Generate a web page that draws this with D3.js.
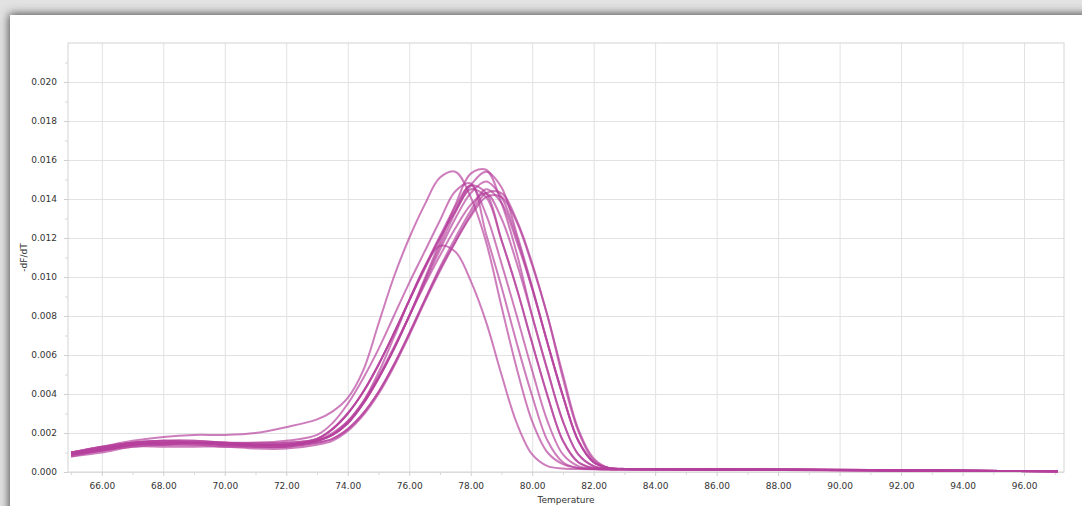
<!DOCTYPE html>
<html>
<head>
<meta charset="utf-8">
<script src="https://cdn.jsdelivr.net/npm/d3@7"></script>
<style>
  body { margin: 0; background: #fff; }
  text { font-family: "DejaVu Sans", sans-serif; }
</style>
</head>
<body>
<svg id="chart" width="1082" height="506"></svg>
<script>
// temperature grid shared by every melt curve (deg C)
const temps = [65, 66, 67, 68, 69, 70, 71, 72, 73, 73.5, 74, 74.5, 75, 75.5, 76, 76.5, 77, 77.5,
               78, 78.5, 79, 79.5, 80, 80.5, 81, 81.5, 82, 82.5, 83, 85, 88, 91, 94, 97.1];

// -dF/dT per well
const melt01 = [0.0010, 0.0013, 0.0016, 0.0018, 0.0019, 0.0019, 0.0020, 0.0023, 0.0027, 0.0031, 0.0038, 0.0052, 0.0076, 0.0100, 0.0120, 0.0137, 0.0151, 0.0154, 0.0141, 0.0118, 0.0085, 0.0053, 0.0026, 0.0010, 0.0004, 0.0002, 0.00016, 0.00014, 0.00013, 0.00012, 0.00010, 0.00008, 0.00006, 0.00004];
const melt02 = [0.0009, 0.0012, 0.0015, 0.0016, 0.0016, 0.0015, 0.0014, 0.0014, 0.0016, 0.0020, 0.0026, 0.0036, 0.0051, 0.0069, 0.0088, 0.0105, 0.0116, 0.0113, 0.0098, 0.0077, 0.0050, 0.0025, 0.0009, 0.0003, 0.00018, 0.00015, 0.00014, 0.00013, 0.00013, 0.00012, 0.00010, 0.00008, 0.00006, 0.00004];
const melt03 = [0.0010, 0.0013, 0.0015, 0.0016, 0.0016, 0.0015, 0.0015, 0.0016, 0.0019, 0.0025, 0.0035, 0.0048, 0.0063, 0.0080, 0.0097, 0.0113, 0.0129, 0.0144, 0.0148, 0.0122, 0.0095, 0.0066, 0.0039, 0.0016, 0.0005, 0.0002, 0.00016, 0.00014, 0.00014, 0.00013, 0.00011, 0.00009, 0.00006, 0.00004];
const melt04 = [0.0009, 0.0012, 0.0014, 0.0015, 0.0015, 0.0015, 0.0014, 0.0015, 0.0017, 0.0022, 0.0030, 0.0041, 0.0055, 0.0071, 0.0088, 0.0105, 0.0120, 0.0134, 0.0147, 0.0132, 0.0107, 0.0080, 0.0052, 0.0026, 0.0009, 0.0003, 0.00017, 0.00014, 0.00014, 0.00013, 0.00011, 0.00009, 0.00006, 0.00004];
const melt05 = [0.0010, 0.0012, 0.0015, 0.0015, 0.0015, 0.0014, 0.0014, 0.0014, 0.0017, 0.0022, 0.0030, 0.0041, 0.0055, 0.0071, 0.0088, 0.0105, 0.0121, 0.0136, 0.0147, 0.0143, 0.0119, 0.0094, 0.0066, 0.0039, 0.0016, 0.0005, 0.0002, 0.00015, 0.00014, 0.00013, 0.00011, 0.00009, 0.00006, 0.00004];
const melt06 = [0.0009, 0.0011, 0.0014, 0.0015, 0.0015, 0.0014, 0.0014, 0.0014, 0.0016, 0.0019, 0.0025, 0.0035, 0.0048, 0.0063, 0.0080, 0.0099, 0.0118, 0.0137, 0.0153, 0.0155, 0.0138, 0.0112, 0.0080, 0.0052, 0.0026, 0.0009, 0.0003, 0.00016, 0.00015, 0.00014, 0.00012, 0.00009, 0.00006, 0.00004];
const melt07 = [0.0008, 0.0011, 0.0013, 0.0014, 0.0014, 0.0014, 0.0013, 0.0013, 0.0016, 0.0019, 0.0025, 0.0035, 0.0048, 0.0063, 0.0080, 0.0098, 0.0116, 0.0133, 0.0147, 0.0154, 0.0146, 0.0122, 0.0095, 0.0066, 0.0039, 0.0016, 0.0005, 0.0002, 0.00015, 0.00014, 0.00012, 0.00009, 0.00006, 0.00004];
const melt08 = [0.0009, 0.0011, 0.0014, 0.0014, 0.0014, 0.0013, 0.0013, 0.0013, 0.0015, 0.0017, 0.0022, 0.0030, 0.0041, 0.0055, 0.0071, 0.0088, 0.0105, 0.0120, 0.0134, 0.0145, 0.0138, 0.0118, 0.0094, 0.0066, 0.0039, 0.0016, 0.0005, 0.0002, 0.00015, 0.00014, 0.00012, 0.00010, 0.00006, 0.00004];
const melt09 = [0.0010, 0.0012, 0.0014, 0.0015, 0.0015, 0.0014, 0.0013, 0.0013, 0.0015, 0.0017, 0.0022, 0.0030, 0.0041, 0.0055, 0.0071, 0.0088, 0.0104, 0.0118, 0.0131, 0.0141, 0.0141, 0.0128, 0.0106, 0.0080, 0.0048, 0.0021, 0.0006, 0.0002, 0.00016, 0.00015, 0.00013, 0.00010, 0.00006, 0.00004];
const melt10 = [0.0009, 0.0012, 0.0014, 0.0015, 0.0015, 0.0015, 0.0014, 0.0014, 0.0016, 0.0019, 0.0025, 0.0035, 0.0048, 0.0063, 0.0080, 0.0096, 0.0111, 0.0125, 0.0137, 0.0143, 0.0130, 0.0107, 0.0080, 0.0052, 0.0026, 0.0009, 0.0003, 0.00016, 0.00015, 0.00014, 0.00012, 0.00010, 0.00006, 0.00004];
const melt11 = [0.0010, 0.0013, 0.0015, 0.0016, 0.0015, 0.0015, 0.0015, 0.0015, 0.0017, 0.0022, 0.0030, 0.0041, 0.0055, 0.0071, 0.0088, 0.0104, 0.0120, 0.0134, 0.0145, 0.0141, 0.0119, 0.0094, 0.0066, 0.0039, 0.0016, 0.0005, 0.0002, 0.00015, 0.00014, 0.00013, 0.00011, 0.00009, 0.00006, 0.00004];
const melt12 = [0.0009, 0.0011, 0.0014, 0.0014, 0.0015, 0.0014, 0.0014, 0.0014, 0.0016, 0.0019, 0.0026, 0.0036, 0.0049, 0.0064, 0.0080, 0.0097, 0.0114, 0.0130, 0.0143, 0.0149, 0.0141, 0.0120, 0.0094, 0.0066, 0.0039, 0.0016, 0.0005, 0.0002, 0.00016, 0.00015, 0.00013, 0.00010, 0.00006, 0.00004];
const melt13 = [0.0008, 0.0010, 0.0013, 0.0013, 0.0013, 0.0013, 0.0012, 0.0012, 0.0014, 0.0016, 0.0021, 0.0029, 0.0040, 0.0054, 0.0070, 0.0087, 0.0103, 0.0118, 0.0132, 0.0143, 0.0143, 0.0129, 0.0107, 0.0080, 0.0050, 0.0022, 0.0007, 0.0002, 0.00016, 0.00015, 0.00013, 0.00010, 0.00006, 0.00004];

const curves = [melt01, melt02, melt03, melt04, melt05, melt06, melt07, melt08, melt09, melt10, melt11, melt12, melt13];

// axis ticks
const xTicks = [66, 68, 70, 72, 74, 76, 78, 80, 82, 84, 86, 88, 90, 92, 94, 96];
const xMinor = [65, 67, 69, 71, 73, 75, 77, 79, 81, 83, 85, 87, 89, 91, 93, 95, 97];
const yTicks = [0, 0.002, 0.004, 0.006, 0.008, 0.010, 0.012, 0.014, 0.016, 0.018, 0.020];
const yMinor = [0.001, 0.003, 0.005, 0.007, 0.009, 0.011, 0.013, 0.015, 0.017, 0.019, 0.021];

const plot = { left: 68, top: 43, right: 1064, bottom: 472 };

const svg = d3.select("#chart");

// window frame: grey backdrop with the panel's shadow
const defs = svg.append("defs");
defs.append("filter")
    .attr("id", "shade")
    .attr("x", "-5%").attr("y", "-10%")
    .attr("width", "110%").attr("height", "120%")
    .append("feGaussianBlur")
    .attr("stdDeviation", 5);

svg.append("rect")
   .attr("width", 1082).attr("height", 506)
   .attr("fill", "#e2e2e2");
svg.append("rect")
   .attr("x", 9).attr("y", 14)
   .attr("width", 1090).attr("height", 510)
   .attr("fill", "#4a4a4a")
   .attr("filter", "url(#shade)");
svg.append("rect")
   .attr("x", 10).attr("y", 15)
   .attr("width", 1080).attr("height", 500)
   .attr("fill", "#fff");

const x = d3.scaleLinear().domain([64.9, 97.3]).range([plot.left, plot.right]);
const y = d3.scaleLinear().domain([0, 0.022]).range([plot.bottom, plot.top]);

// grid
svg.append("g")
   .attr("transform", `translate(0,${plot.bottom})`)
   .call(d3.axisBottom(x).tickValues(xTicks).tickSize(-(plot.bottom - plot.top)).tickFormat(""))
   .call(g => g.select(".domain").remove())
   .selectAll("line").attr("stroke", "#e2e2e2");

svg.append("g")
   .attr("transform", `translate(${plot.left},0)`)
   .call(d3.axisLeft(y).tickValues(yTicks).tickSize(-(plot.right - plot.left)).tickFormat(""))
   .call(g => g.select(".domain").remove())
   .selectAll("line").attr("stroke", "#e2e2e2");

svg.append("rect")
   .attr("x", plot.left).attr("y", plot.top)
   .attr("width", plot.right - plot.left).attr("height", plot.bottom - plot.top)
   .attr("fill", "none")
   .attr("stroke", "#d4d4d4");

// axes
const xAxis = svg.append("g")
   .attr("transform", `translate(0,${plot.bottom})`)
   .call(d3.axisBottom(x).tickValues(xTicks).tickSize(4).tickPadding(7).tickFormat(d3.format(".2f")));
xAxis.select(".domain").remove();
xAxis.selectAll("line").attr("stroke", "#cfcfcf");
xAxis.selectAll("text").attr("fill", "#333").style("font-size", "9px");

svg.append("g")
   .attr("transform", `translate(0,${plot.bottom})`)
   .call(d3.axisBottom(x).tickValues(xMinor).tickSize(3).tickFormat(""))
   .call(g => g.select(".domain").remove())
   .selectAll("line").attr("stroke", "#d8d8d8");

const yAxis = svg.append("g")
   .attr("transform", `translate(${plot.left},0)`)
   .call(d3.axisLeft(y).tickValues(yTicks).tickSize(4).tickPadding(7).tickFormat(d3.format(".3f")));
yAxis.select(".domain").remove();
yAxis.selectAll("line").attr("stroke", "#cfcfcf");
yAxis.selectAll("text").attr("fill", "#333").style("font-size", "9px");

svg.append("g")
   .attr("transform", `translate(${plot.left},0)`)
   .call(d3.axisLeft(y).tickValues(yMinor).tickSize(3).tickFormat(""))
   .call(g => g.select(".domain").remove())
   .selectAll("line").attr("stroke", "#d8d8d8");

// axis titles
svg.append("text")
   .attr("x", (plot.left + plot.right) / 2)
   .attr("y", 503)
   .attr("text-anchor", "middle")
   .attr("fill", "#333")
   .style("font-size", "9px")
   .text("Temperature");

svg.append("text")
   .attr("transform", `translate(27,${(plot.top + plot.bottom) / 2}) rotate(-90)`)
   .attr("text-anchor", "middle")
   .attr("fill", "#333")
   .style("font-size", "9px")
   .text("-dF/dT");

// melt curves
const line = d3.line()
   .x((d, i) => x(temps[i]))
   .y(d => y(d))
   .curve(d3.curveCatmullRom.alpha(0.5));

svg.append("g")
   .selectAll("path")
   .data(curves)
   .enter()
   .append("path")
   .attr("d", line)
   .attr("fill", "none")
   .attr("stroke", "#b5409c")
   .attr("stroke-opacity", 0.68)
   .attr("stroke-width", 2)
   .attr("stroke-linejoin", "round");
</script>
</body>
</html>
